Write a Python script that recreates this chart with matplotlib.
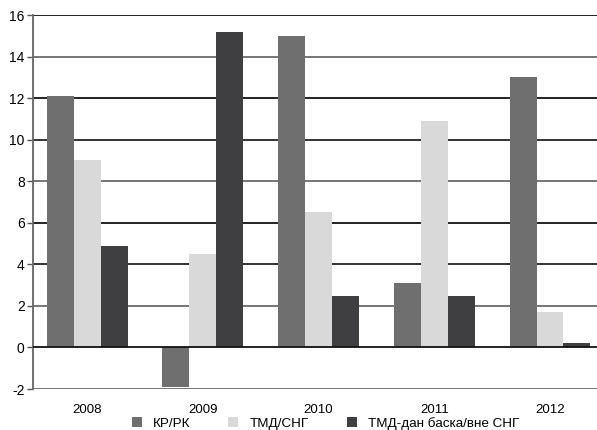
import matplotlib.pyplot as plt
import numpy as np

plt.rcParams['font.family'] = ['Liberation Sans', 'DejaVu Sans']
plt.rcParams['axes.unicode_minus'] = False

years = ["2008", "2009", "2010", "2011", "2012"]
kr_rk = [12.1, -1.9, 15.0, 3.1, 13.0]
tmd_sng = [9.0, 4.5, 6.5, 10.9, 1.7]
vne_sng = [4.9, 15.2, 2.5, 2.5, 0.2]
labels = ["КР/РК", "ТМД/СНГ", "ТМД-дан баска/вне СНГ"]
yticks = [-2, 0, 2, 4, 6, 8, 10, 12, 14, 16]

fig = plt.figure(figsize=(5.97, 4.30), dpi=100)
ax = fig.add_axes([0.0553, 0.0953, 0.9447, 0.8698])

x = np.arange(len(years))
w = 0.233
ax.bar(x - w, kr_rk, w, color="#6f6f70", label=labels[0], zorder=3)
ax.bar(x, tmd_sng, w, color="#d9d9da", label=labels[1], zorder=3)
ax.bar(x + w, vne_sng, w, color="#3f3f41", label=labels[2], zorder=3)

# gridlines (scan looks like alternating black / grey)
grid_cols = {16: "#111111", 14: "#6a6a6a", 12: "#111111", 10: "#222222", 8: "#6a6a6a",
             6: "#111111", 4: "#222222", 2: "#6a6a6a", 0: "#111111", -2: "#6a6a6a"}
for v in yticks:
    ax.axhline(v, color=grid_cols[v], lw=1.3, zorder=1 if v != 0 else 4)

ax.set_xlim(-0.467, 4.406)
ax.set_ylim(-2, 16)
ax.set_yticks(yticks)
ax.set_xticks(x)
ax.set_xticklabels(years)
ax.tick_params(axis="x", length=0, pad=11, labelsize=9.5)
ax.tick_params(axis="y", length=4, width=1, color="#555555", labelsize=10, pad=2)

for s in ["top", "right", "bottom"]:
    ax.spines[s].set_visible(False)
ax.spines["left"].set_color("#666666")
ax.spines["left"].set_linewidth(1.3)

fig.legend(loc="lower center", bbox_to_anchor=(0.545, -0.028), ncol=3, frameon=False,
           fontsize=9.7, handlelength=0.75, handleheight=0.75, columnspacing=2.85,
           handletextpad=0.8)

fig.savefig("out.png", dpi=100)
